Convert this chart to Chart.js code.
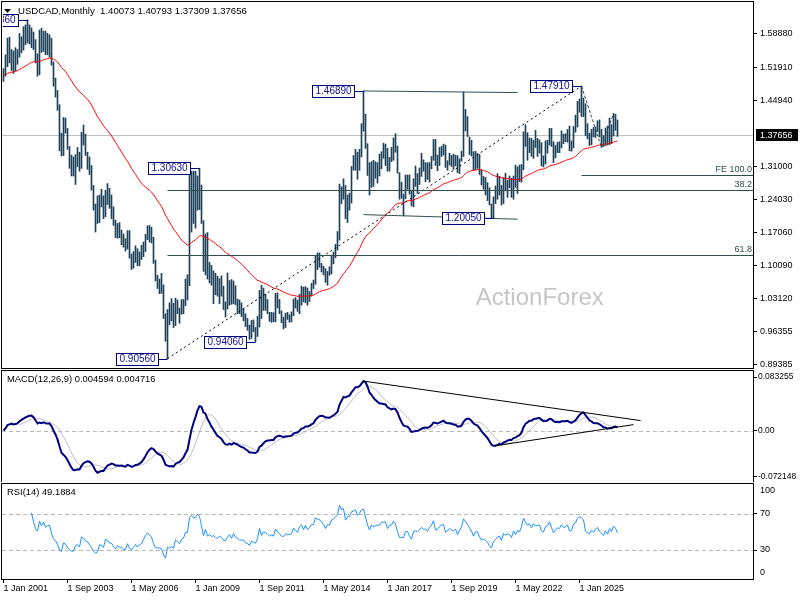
<!DOCTYPE html>
<html>
<head>
<meta charset="utf-8">
<title>USDCAD Monthly</title>
<script src="https://cdn.jsdelivr.net/npm/chart.js@4.4.1/dist/chart.umd.min.js"></script>
<style>
  html, body { margin: 0; padding: 0; background: #fff; }
  #wrap { position: relative; width: 800px; height: 600px; overflow: hidden; }
  #wrap canvas { position: absolute; left: 0; }
</style>
</head>
<body>
<div id="wrap">
  <canvas id="priceChart" width="800" height="370" style="top:0"></canvas>
  <canvas id="macdChart" width="800" height="113" style="top:369px"></canvas>
  <canvas id="rsiChart" width="800" height="118" style="top:482px"></canvas>
</div>
<script>
// ---- data (monthly bars, Jan 2001 .. Aug 2026) ----
const dateTicks = ['1 Jan 2001', '1 Sep 2003', '1 May 2006', '1 Jan 2009', '1 Sep 2011',
  '1 May 2014', '1 Jan 2017', '1 Sep 2019', '1 May 2022', '1 Jan 2025'];
const dateStep = 32;

const highs = [
  1.516, 1.545, 1.580, 1.582, 1.556, 1.553, 1.560, 1.556, 1.590, 1.583, 1.604, 1.608,
  1.6186, 1.608, 1.602, 1.593, 1.577, 1.547, 1.597, 1.601, 1.595, 1.595, 1.590, 1.587,
  1.580, 1.530, 1.496, 1.470, 1.440, 1.380, 1.413, 1.412, 1.390, 1.352, 1.334, 1.330,
  1.335, 1.350, 1.340, 1.382, 1.397, 1.378, 1.340, 1.330, 1.312, 1.270, 1.231, 1.248,
  1.250, 1.262, 1.248, 1.260, 1.274, 1.264, 1.250, 1.225, 1.197, 1.190, 1.192, 1.176,
  1.168, 1.158, 1.175, 1.175, 1.126, 1.131, 1.143, 1.137, 1.130, 1.144, 1.151, 1.167,
  1.185, 1.186, 1.182, 1.161, 1.113, 1.081, 1.073, 1.085, 1.061, 1.000, 1.009, 1.023,
  1.032, 1.022, 1.033, 1.029, 1.012, 1.030, 1.030, 1.073, 1.082, 1.295, 1.300, 1.300,
  1.300, 1.290, 1.3063, 1.271, 1.196, 1.168, 1.171, 1.108, 1.102, 1.090, 1.085, 1.079,
  1.074, 1.080, 1.058, 1.025, 1.086, 1.070, 1.072, 1.069, 1.059, 1.031, 1.029, 1.023,
  1.011, 1.000, 0.990, 0.976, 0.986, 0.987, 0.971, 0.995, 1.049, 1.060, 1.054, 1.041,
  1.030, 1.003, 1.003, 1.002, 1.043, 1.044, 1.030, 1.006, 0.993, 1.001, 1.003, 0.998,
  1.004, 1.031, 1.034, 1.029, 1.041, 1.058, 1.056, 1.057, 1.054, 1.047, 1.064, 1.071,
  1.122, 1.128, 1.128, 1.106, 1.100, 1.095, 1.089, 1.099, 1.121, 1.130, 1.146, 1.173,
  1.273, 1.267, 1.284, 1.270, 1.250, 1.254, 1.310, 1.333, 1.346, 1.340, 1.346, 1.400,
  1.4689, 1.420, 1.358, 1.318, 1.320, 1.323, 1.320, 1.318, 1.336, 1.341, 1.359, 1.357,
  1.348, 1.329, 1.350, 1.370, 1.379, 1.353, 1.297, 1.277, 1.252, 1.292, 1.292, 1.292,
  1.260, 1.284, 1.311, 1.295, 1.307, 1.338, 1.324, 1.318, 1.318, 1.318, 1.331, 1.367,
  1.367, 1.334, 1.350, 1.352, 1.357, 1.355, 1.322, 1.338, 1.333, 1.336, 1.334, 1.333,
  1.326, 1.342, 1.4667, 1.430, 1.415, 1.372, 1.365, 1.341, 1.342, 1.337, 1.335, 1.303,
  1.289, 1.287, 1.276, 1.265, 1.231, 1.246, 1.269, 1.295, 1.289, 1.270, 1.286, 1.296,
  1.281, 1.290, 1.285, 1.290, 1.313, 1.309, 1.313, 1.314, 1.383, 1.3977, 1.381, 1.370,
  1.369, 1.365, 1.386, 1.369, 1.366, 1.360, 1.332, 1.364, 1.365, 1.390, 1.390, 1.362,
  1.354, 1.361, 1.362, 1.385, 1.378, 1.379, 1.388, 1.395, 1.364, 1.394, 1.418, 1.447,
  1.452, 1.4791, 1.454, 1.442, 1.400, 1.380, 1.388, 1.392, 1.393, 1.406, 1.408, 1.388,
  1.375, 1.391, 1.395, 1.412, 1.398, 1.4216, 1.420, 1.40793
];

const lows = [
  1.489, 1.500, 1.520, 1.528, 1.512, 1.506, 1.511, 1.525, 1.540, 1.549, 1.555, 1.566,
  1.570, 1.568, 1.560, 1.556, 1.528, 1.500, 1.503, 1.550, 1.552, 1.545, 1.545, 1.540,
  1.523, 1.479, 1.456, 1.428, 1.343, 1.332, 1.333, 1.380, 1.346, 1.306, 1.290, 1.290,
  1.272, 1.310, 1.300, 1.306, 1.355, 1.333, 1.304, 1.293, 1.260, 1.218, 1.172, 1.190,
  1.192, 1.225, 1.200, 1.204, 1.230, 1.222, 1.200, 1.186, 1.160, 1.159, 1.160, 1.145,
  1.140, 1.132, 1.136, 1.117, 1.093, 1.096, 1.108, 1.101, 1.101, 1.114, 1.120, 1.131,
  1.156, 1.151, 1.149, 1.106, 1.069, 1.053, 1.042, 1.043, 0.990, 0.942, 0.9056, 0.977,
  0.985, 0.971, 0.975, 1.000, 0.980, 0.999, 1.000, 1.017, 1.029, 1.059, 1.172, 1.190,
  1.180, 1.218, 1.219, 1.190, 1.089, 1.082, 1.073, 1.065, 1.060, 1.021, 1.040, 1.037,
  1.021, 1.037, 1.009, 0.993, 1.010, 1.018, 1.020, 1.021, 1.019, 1.000, 1.000, 0.994,
  0.985, 0.973, 0.965, 0.946, 0.948, 0.962, 0.9406, 0.952, 0.972, 0.990, 1.007, 1.007,
  1.000, 0.984, 0.982, 0.983, 0.983, 1.012, 1.000, 0.981, 0.968, 0.971, 0.988, 0.982,
  0.983, 0.996, 1.012, 1.005, 1.000, 1.018, 1.025, 1.023, 1.018, 1.026, 1.037, 1.053,
  1.062, 1.093, 1.098, 1.088, 1.082, 1.066, 1.060, 1.081, 1.084, 1.105, 1.118, 1.134,
  1.155, 1.232, 1.241, 1.200, 1.192, 1.218, 1.233, 1.302, 1.302, 1.283, 1.302, 1.330,
  1.384, 1.348, 1.291, 1.250, 1.266, 1.268, 1.285, 1.275, 1.290, 1.305, 1.327, 1.312,
  1.300, 1.300, 1.320, 1.323, 1.340, 1.296, 1.241, 1.243, 1.2061, 1.242, 1.262, 1.252,
  1.227, 1.225, 1.268, 1.253, 1.272, 1.289, 1.300, 1.278, 1.283, 1.277, 1.305, 1.323,
  1.312, 1.301, 1.312, 1.331, 1.334, 1.308, 1.302, 1.313, 1.310, 1.304, 1.311, 1.297,
  1.295, 1.321, 1.331, 1.385, 1.373, 1.335, 1.332, 1.303, 1.303, 1.306, 1.293, 1.271,
  1.262, 1.250, 1.238, 1.229, 1.201, 1.2005, 1.232, 1.241, 1.250, 1.229, 1.232, 1.261,
  1.245, 1.265, 1.245, 1.241, 1.266, 1.253, 1.278, 1.277, 1.303, 1.352, 1.323, 1.339,
  1.331, 1.327, 1.350, 1.331, 1.338, 1.311, 1.309, 1.315, 1.338, 1.355, 1.352, 1.318,
  1.328, 1.339, 1.339, 1.349, 1.358, 1.362, 1.361, 1.343, 1.342, 1.349, 1.382, 1.393,
  1.424, 1.415, 1.415, 1.375, 1.368, 1.354, 1.356, 1.372, 1.371, 1.383, 1.372, 1.350,
  1.352, 1.354, 1.355, 1.356, 1.358, 1.374, 1.386, 1.37309
];

const closes = [
  1.502, 1.543, 1.575, 1.541, 1.545, 1.519, 1.545, 1.549, 1.580, 1.580, 1.584, 1.592,
  1.595, 1.596, 1.594, 1.562, 1.530, 1.518, 1.584, 1.560, 1.588, 1.560, 1.570, 1.575,
  1.527, 1.482, 1.470, 1.436, 1.372, 1.351, 1.404, 1.388, 1.351, 1.319, 1.297, 1.298,
  1.329, 1.335, 1.310, 1.374, 1.364, 1.338, 1.330, 1.300, 1.267, 1.220, 1.190, 1.198,
  1.240, 1.232, 1.210, 1.258, 1.254, 1.226, 1.225, 1.190, 1.163, 1.181, 1.165, 1.163,
  1.143, 1.136, 1.166, 1.120, 1.103, 1.115, 1.130, 1.106, 1.117, 1.123, 1.143, 1.165,
  1.178, 1.168, 1.153, 1.108, 1.070, 1.066, 1.066, 1.057, 0.995, 0.945, 0.999, 0.990,
  1.001, 0.978, 1.028, 1.007, 0.991, 1.018, 1.024, 1.064, 1.062, 1.205, 1.238, 1.220,
  1.232, 1.275, 1.260, 1.191, 1.092, 1.163, 1.077, 1.095, 1.070, 1.079, 1.055, 1.047,
  1.068, 1.052, 1.016, 1.016, 1.043, 1.063, 1.027, 1.066, 1.029, 1.019, 1.003, 0.999,
  1.001, 0.973, 0.970, 0.946, 0.970, 0.964, 0.954, 0.981, 1.048, 0.995, 1.021, 1.018,
  1.002, 0.989, 0.997, 0.987, 1.035, 1.016, 1.004, 0.986, 0.983, 0.999, 0.993, 0.995,
  0.998, 1.029, 1.016, 1.008, 1.036, 1.051, 1.027, 1.054, 1.031, 1.043, 1.062, 1.063,
  1.114, 1.107, 1.105, 1.096, 1.084, 1.067, 1.090, 1.087, 1.120, 1.127, 1.142, 1.160,
  1.270, 1.250, 1.267, 1.207, 1.244, 1.249, 1.308, 1.316, 1.339, 1.308, 1.336, 1.384,
  1.401, 1.353, 1.298, 1.255, 1.310, 1.292, 1.306, 1.312, 1.312, 1.341, 1.343, 1.343,
  1.302, 1.329, 1.331, 1.366, 1.349, 1.297, 1.248, 1.249, 1.248, 1.290, 1.290, 1.256,
  1.231, 1.284, 1.289, 1.284, 1.296, 1.314, 1.302, 1.305, 1.291, 1.315, 1.330, 1.365,
  1.313, 1.315, 1.336, 1.346, 1.352, 1.308, 1.317, 1.331, 1.324, 1.317, 1.329, 1.298,
  1.324, 1.342, 1.407, 1.393, 1.378, 1.358, 1.339, 1.305, 1.332, 1.332, 1.299, 1.274,
  1.279, 1.269, 1.256, 1.228, 1.207, 1.239, 1.248, 1.262, 1.267, 1.238, 1.277, 1.264,
  1.272, 1.267, 1.250, 1.285, 1.264, 1.288, 1.279, 1.313, 1.383, 1.363, 1.343, 1.355,
  1.331, 1.364, 1.352, 1.355, 1.357, 1.324, 1.318, 1.351, 1.359, 1.387, 1.356, 1.325,
  1.342, 1.357, 1.354, 1.378, 1.364, 1.368, 1.381, 1.349, 1.352, 1.393, 1.401, 1.438,
  1.451, 1.446, 1.438, 1.379, 1.372, 1.364, 1.385, 1.374, 1.392, 1.401, 1.381, 1.372,
  1.360, 1.383, 1.365, 1.395, 1.380, 1.412, 1.4007, 1.37656
];

const priceTicks = [1.58880, 1.51910, 1.44940, 1.31000, 1.24030, 1.17060, 1.10090, 1.03120, 0.96355, 0.89385];
const macdTicks = [0.083255, 0, -0.072148];
const rsiTicks = [70, 30];
const rsiEdgeLabels = ['100', '0'];

const titleText = 'USDCAD,Monthly  1.40073 1.40793 1.37309 1.37656';
const macdTitle = 'MACD(12,26,9) 0.004594 0.004716';
const rsiTitle = 'RSI(14) 49.1884';

// swing highs / lows that carry a price box
const pivots = [
  { i: 12, p: 1.6186, text: '1.61860' },
  { i: 82, p: 0.9056, text: '0.90560' },
  { i: 98, p: 1.3063, text: '1.30630' },
  { i: 126, p: 0.9406, text: '0.94060' },
  { i: 180, p: 1.4689, text: '1.46890' },
  { i: 245, p: 1.2005, text: '1.20050' },
  { i: 289, p: 1.4791, text: '1.47910' }
];
const resistance = [[180, 1.4689], [230, 1.4667]];
const support = [[200, 1.2061], [245, 1.2005]];
const levelLineSpan = [180, 257];
const fibFrom = [82, 0.9056];
const fibTo = [289, 1.4791];
const fibLevels = [38.2, 61.8];
const swing = [[289, 1.4791], [299, 1.3500], [305, 1.4216]];
const emaPeriod = 55;

// ---- indicators ----
function ema(src, n) {
  const a = 2 / (n + 1);
  const out = [src[0]];
  for (let k = 1; k < src.length; k++) out.push(out[k - 1] + a * (src[k] - out[k - 1]));
  return out;
}
function sma(src, n) {
  return src.map((v, k) => {
    if (k < n - 1) return null;
    let s = 0;
    for (let j = k - n + 1; j <= k; j++) s += src[j];
    return s / n;
  });
}
function rsi(src, n) {
  const out = src.map(() => null);
  let g = 0, l = 0;
  for (let k = 1; k <= n; k++) {
    const d = src[k] - src[k - 1];
    if (d > 0) g += d; else l -= d;
  }
  g /= n; l /= n;
  out[n] = l === 0 ? 100 : 100 - 100 / (1 + g / l);
  for (let k = n + 1; k < src.length; k++) {
    const d = src[k] - src[k - 1];
    g = (g * (n - 1) + Math.max(d, 0)) / n;
    l = (l * (n - 1) + Math.max(-d, 0)) / n;
    out[k] = l === 0 ? 100 : 100 - 100 / (1 + g / l);
  }
  return out;
}
function argExt(arr, from, to, sign) {
  let best = from;
  for (let k = from; k <= to; k++) if (sign * arr[k] > sign * arr[best]) best = k;
  return best;
}

const maLine = ema(closes, emaPeriod);
const fast = ema(closes, 12), slow = ema(closes, 26);
const macd = closes.map((c, k) => fast[k] - slow[k]);
const signal = sma(macd, 9);
const rsiVals = rsi(closes, 14);
const lastClose = closes[closes.length - 1];

const pts = arr => arr.map((v, k) => ({ x: k, y: v }));

// ---- shared layout ----
const FONT = '"Liberation Sans", Arial, sans-serif';
const xMin = -0.75, xMax = 374.75;
Chart.defaults.font.family = FONT;
Chart.defaults.font.size = 9;
Chart.defaults.color = '#000';

const baseOptions = {
  responsive: false,
  devicePixelRatio: 1,
  animation: false,
  events: [],
  plugins: { legend: { display: false }, tooltip: { enabled: false } }
};

function xAxis(show) {
  const ax = { type: 'linear', min: xMin, max: xMax, offset: false, display: show };
  if (show) {
    Object.assign(ax, {
      afterBuildTicks(s) { s.ticks = dateTicks.map((t, k) => ({ value: k * dateStep })); },
      afterFit(s) { s.height = 21; s.paddingLeft = 0; s.paddingRight = 0; },
      ticks: { autoSkip: false, maxRotation: 0, minRotation: 0, align: 'start', padding: 0,
        color: '#000', font: { family: FONT, size: 9 },
        callback: v => dateTicks[Math.round(v / dateStep)] },
      grid: { drawOnChartArea: false, tickLength: 4, color: '#000' },
      border: { color: '#000' }
    });
  }
  return ax;
}
function rightAxis(min, max, ticks, fmt, pad, size) {
  return {
    position: 'right', min, max,
    afterFit(s) { s.width = 47; s.paddingTop = 0; s.paddingBottom = 0; },
    afterBuildTicks(s) { s.ticks = ticks.map(v => ({ value: v })); },
    grid: { drawOnChartArea: false, tickLength: 4, color: '#000' },
    border: { color: '#000' },
    ticks: { autoSkip: false, padding: pad, color: '#000', font: { family: FONT, size: size }, callback: fmt }
  };
}

const framePlugin = {
  id: 'frame',
  afterDraw(chart) {
    const { ctx, chartArea: a } = chart;
    ctx.save();
    ctx.strokeStyle = '#000';
    ctx.lineWidth = 1;
    ctx.strokeRect(a.left - 0.5, a.top - 0.5, a.right - a.left + 1, a.bottom - a.top + 1);
    ctx.restore();
  }
};

function crisp(v) { return Math.round(v) + 0.5; }
function extLine(ctx, xs, ys, p, q, i0, i1) {
  const k = (q[1] - p[1]) / (q[0] - p[0]);
  ctx.beginPath();
  ctx.moveTo(xs.getPixelForValue(i0), ys.getPixelForValue(p[1] + k * (i0 - p[0])));
  ctx.lineTo(xs.getPixelForValue(i1), ys.getPixelForValue(p[1] + k * (i1 - p[0])));
  ctx.stroke();
}

// ---- price panel ----
const priceOverlay = {
  id: 'priceOverlay',
  beforeDatasetsDraw(chart) {
    const { ctx, chartArea: a, scales: { y } } = chart;
    ctx.save();
    ctx.fillStyle = '#c6c6c6';
    ctx.font = '24px ' + FONT;
    ctx.textAlign = 'center';
    ctx.textBaseline = 'middle';
    ctx.fillText('ActionForex', a.left + (a.right - a.left) * 0.716, a.top + (a.bottom - a.top) * 0.81);
    const yc = crisp(y.getPixelForValue(lastClose));
    ctx.strokeStyle = '#c0c0c0';
    ctx.lineWidth = 1;
    ctx.beginPath(); ctx.moveTo(a.left, yc); ctx.lineTo(a.right, yc); ctx.stroke();
    ctx.restore();
  },
  afterDatasetsDraw(chart) {
    const { ctx, chartArea: a, scales: { x, y } } = chart;
    ctx.save();
    ctx.beginPath();
    ctx.rect(a.left + 1, a.top, a.right - a.left - 1, a.bottom - a.top);
    ctx.clip();
    ctx.lineWidth = 1;

    // long dotted trend line low -> high
    ctx.strokeStyle = '#000';
    ctx.setLineDash([2, 3]);
    extLine(ctx, x, y, fibFrom, fibTo, fibFrom[0], fibTo[0]);

    // swing zigzag
    ctx.strokeStyle = '#2f4f4f';
    ctx.setLineDash([3, 2]);
    ctx.beginPath();
    swing.forEach((s, k) => {
      const px = x.getPixelForValue(s[0]), py = y.getPixelForValue(s[1]);
      if (k === 0) ctx.moveTo(px, py); else ctx.lineTo(px, py);
    });
    ctx.stroke();
    ctx.setLineDash([]);

    // resistance / support lines
    ctx.strokeStyle = '#2f4f4f';
    extLine(ctx, x, y, resistance[0], resistance[1], levelLineSpan[0], levelLineSpan[1]);
    extLine(ctx, x, y, support[0], support[1], levelLineSpan[0], levelLineSpan[1]);

    // fibonacci retracement + expansion
    ctx.font = '9px ' + FONT;
    ctx.textAlign = 'right';
    ctx.textBaseline = 'middle';
    ctx.fillStyle = '#2f4f4f';
    const range = fibTo[1] - fibFrom[1];
    const levels = fibLevels.map(l => ({ p: fibTo[1] - range * l / 100, i: fibFrom[0], text: l.toFixed(1) }));
    levels.push({ p: swing[2][1] - (swing[0][1] - swing[1][1]), i: swing[0][0], text: 'FE 100.0' });
    levels.forEach(l => {
      const py = crisp(y.getPixelForValue(l.p));
      ctx.beginPath();
      ctx.moveTo(x.getPixelForValue(l.i), py);
      ctx.lineTo(a.right, py);
      ctx.stroke();
      ctx.fillText(l.text, a.right - 1, py - 6);
    });

    // pivot price boxes
    ctx.font = '10px ' + FONT;
    ctx.textAlign = 'left';
    pivots.forEach(pv => {
      const bx = x.getPixelForValue(pv.i);
      const py = crisp(y.getPixelForValue(pv.p));
      const w = Math.round(ctx.measureText(pv.text).width) + 6;
      const left = Math.round(bx - 10 - w);
      ctx.strokeStyle = '#000080';
      ctx.beginPath(); ctx.moveTo(left + w, py); ctx.lineTo(bx, py); ctx.stroke();
      ctx.fillStyle = '#fff';
      ctx.fillRect(left, py - 6, w, 12);
      ctx.strokeRect(left + 0.5, py - 6, w, 12);
      ctx.fillStyle = '#1010a0';
      ctx.fillText(pv.text, left + 3.5, py);
    });
    ctx.restore();
  },
  afterDraw(chart) {
    const { ctx, chartArea: a, scales: { y } } = chart;
    ctx.save();
    // current price tag on the axis
    const yc = Math.round(y.getPixelForValue(lastClose));
    ctx.fillStyle = '#000';
    ctx.fillRect(a.right + 3, yc - 6, 42, 12);
    ctx.fillStyle = '#fff';
    ctx.font = '9px ' + FONT;
    ctx.textBaseline = 'middle';
    ctx.fillText(lastClose.toFixed(5), a.right + 7, yc + 0.5);
    // title
    ctx.fillStyle = '#000';
    ctx.beginPath();
    ctx.moveTo(a.left + 2, a.top + 7); ctx.lineTo(a.left + 9, a.top + 7); ctx.lineTo(a.left + 5.5, a.top + 11);
    ctx.closePath(); ctx.fill();
    ctx.font = '9.6px ' + FONT;
    ctx.fillText(titleText, a.left + 16, a.top + 9.5);
    ctx.restore();
  }
};

new Chart(document.getElementById('priceChart'), {
  type: 'bar',
  data: {
    datasets: [
      { type: 'line', data: pts(maLine), borderColor: '#ff0000', borderWidth: 1, pointRadius: 0, tension: 0, order: 0 },
      { type: 'bar', data: highs.map((h, k) => ({ x: k, y: [lows[k], h] })), backgroundColor: '#1e4159',
        barThickness: 1, borderWidth: 0, grouped: false, order: 1 }
    ]
  },
  options: Object.assign({}, baseOptions, {
    layout: { padding: { left: 2, top: 2, bottom: 2, right: 0 } },
    scales: {
      x: xAxis(false),
      y: rightAxis(0.88580, 1.65615, priceTicks, v => v.toFixed(5), 3, 9)
    }
  }),
  plugins: [framePlugin, priceOverlay]
});

// ---- MACD panel ----
const macdOverlay = {
  id: 'macdOverlay',
  beforeDatasetsDraw(chart) {
    const { ctx, chartArea: a, scales: { y } } = chart;
    ctx.save();
    ctx.strokeStyle = '#b8b8b8';
    ctx.setLineDash([4, 3]);
    const y0 = crisp(y.getPixelForValue(0));
    ctx.beginPath(); ctx.moveTo(a.left, y0); ctx.lineTo(a.right, y0); ctx.stroke();
    ctx.restore();
  },
  afterDatasetsDraw(chart) {
    const { ctx, scales: { x, y } } = chart;
    const hiA = argExt(macd, 170, 195, 1), hiB = argExt(macd, 280, 300, 1);
    const loA = argExt(macd, 235, 255, -1), loB = argExt(macd, 296, 307, -1);
    ctx.save();
    ctx.strokeStyle = '#000';
    ctx.lineWidth = 1;
    extLine(ctx, x, y, [hiA, macd[hiA]], [hiB, macd[hiB]], hiA, 318.5);
    extLine(ctx, x, y, [loA, macd[loA]], [loB, macd[loB]], loA, 315);
    ctx.restore();
  },
  afterDraw(chart) {
    const { ctx, chartArea: a } = chart;
    ctx.save();
    ctx.fillStyle = '#000';
    ctx.font = '9.4px ' + FONT;
    ctx.textBaseline = 'middle';
    ctx.fillText(macdTitle, a.left + 5, a.top + 8.5);
    ctx.restore();
  }
};

new Chart(document.getElementById('macdChart'), {
  type: 'line',
  data: {
    datasets: [
      { data: pts(macd), borderColor: '#000080', borderWidth: 2, pointRadius: 0, tension: 0 },
      { data: pts(signal), borderColor: '#bdbdbd', borderWidth: 1, pointRadius: 0, tension: 0 }
    ]
  },
  options: Object.assign({}, baseOptions, {
    layout: { padding: { left: 2, top: 2, bottom: 0, right: 0 } },
    scales: {
      x: xAxis(false),
      y: rightAxis(-0.08011, 0.09268, macdTicks, v => (v === 0 ? '0.00' : v.toFixed(6)), 1, 8.5)
    }
  }),
  plugins: [framePlugin, macdOverlay]
});

// ---- RSI panel ----
const rsiOverlay = {
  id: 'rsiOverlay',
  beforeDatasetsDraw(chart) {
    const { ctx, chartArea: a, scales: { y } } = chart;
    ctx.save();
    ctx.strokeStyle = '#b8b8b8';
    ctx.setLineDash([4, 3]);
    rsiTicks.forEach(v => {
      const py = crisp(y.getPixelForValue(v));
      ctx.beginPath(); ctx.moveTo(a.left, py); ctx.lineTo(a.right, py); ctx.stroke();
    });
    ctx.restore();
  },
  afterDraw(chart) {
    const { ctx, chartArea: a } = chart;
    ctx.save();
    ctx.fillStyle = '#000';
    ctx.font = '9.4px ' + FONT;
    ctx.textBaseline = 'middle';
    ctx.fillText(rsiTitle, a.left + 5, a.top + 8.5);
    ctx.font = '9px ' + FONT;
    ctx.fillText(rsiEdgeLabels[0], a.right + 7, a.top + 6.5);
    ctx.fillText(rsiEdgeLabels[1], a.right + 7, a.bottom - 6.5);
    ctx.restore();
  }
};

new Chart(document.getElementById('rsiChart'), {
  type: 'line',
  data: {
    datasets: [
      { data: pts(rsiVals), borderColor: '#1e90ff', borderWidth: 1, pointRadius: 0, tension: 0 }
    ]
  },
  options: Object.assign({}, baseOptions, {
    layout: { padding: { left: 2, top: 2, bottom: 0, right: 0 } },
    scales: {
      x: xAxis(true),
      y: rightAxis(-2.22, 103.33, rsiTicks, v => String(v), 3, 9)
    }
  }),
  plugins: [framePlugin, rsiOverlay]
});
</script>
</body>
</html>
